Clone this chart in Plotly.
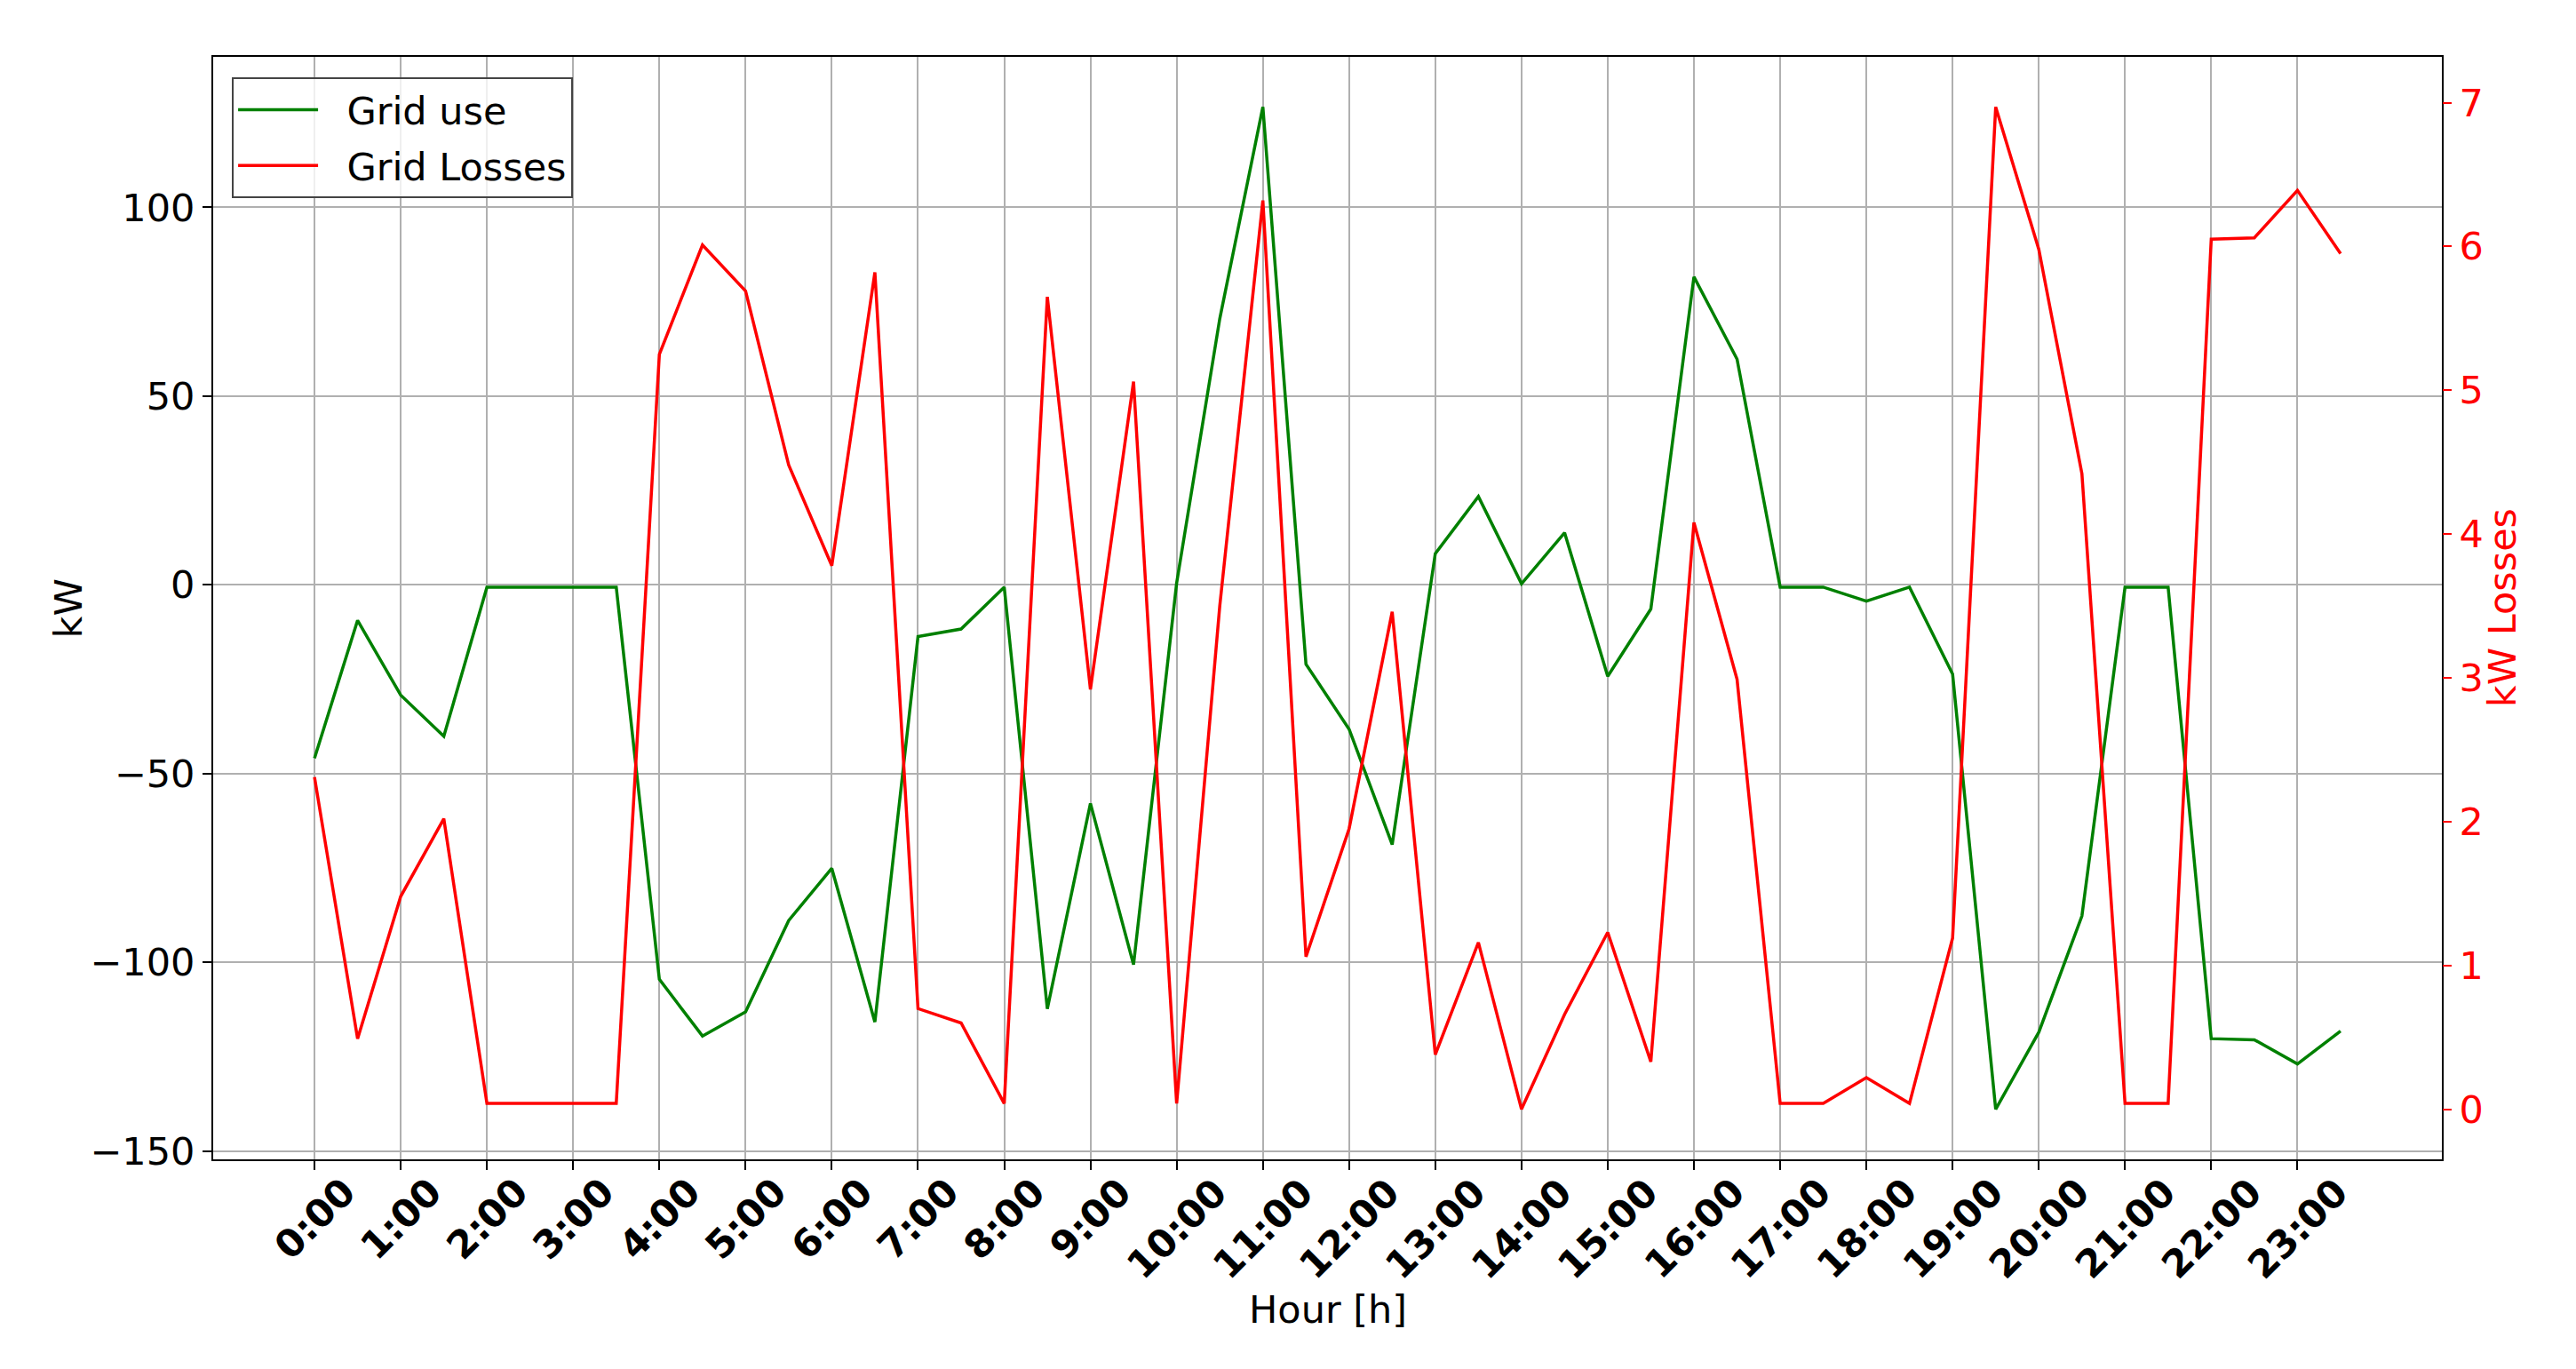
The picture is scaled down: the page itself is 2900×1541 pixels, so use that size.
"""
Grid use vs. grid losses over one day (half-hour steps), twin y axes.
"""
import plotly.graph_objects as go

# half-hour time slots
time_slots = [
    '0:00', '0:30', '1:00', '1:30', '2:00', '2:30', '3:00', '3:30',
    '4:00', '4:30', '5:00', '5:30', '6:00', '6:30', '7:00', '7:30',
    '8:00', '8:30', '9:00', '9:30', '10:00', '10:30', '11:00', '11:30',
    '12:00', '12:30', '13:00', '13:30', '14:00', '14:30', '15:00', '15:30',
    '16:00', '16:30', '17:00', '17:30', '18:00', '18:30', '19:00', '19:30',
    '20:00', '20:30', '21:00', '21:30', '22:00', '22:30', '23:00', '23:30',
]

# tick labels (full hours only)
hour_ticks = [
    '0:00', '1:00', '2:00', '3:00', '4:00', '5:00', '6:00', '7:00',
    '8:00', '9:00', '10:00', '11:00', '12:00', '13:00', '14:00', '15:00',
    '16:00', '17:00', '18:00', '19:00', '20:00', '21:00', '22:00', '23:00',
]

# Grid use [kW]
grid_use = [
    -45.9, -9.4, -29.2, -40.1, -0.6, -0.6, -0.6, -0.6,
    -104.5, -119.5, -113.1, -88.9, -75.1, -115.8, -13.7, -11.7,
    -0.6, -112.3, -57.9, -100.6, 0.5, 70.5, 126.6, -21.0,
    -38.2, -68.8, 8.3, 23.4, 0.3, 13.8, -24.2, -6.4,
    81.6, 59.8, -0.6, -0.6, -4.3, -0.6, -23.6, -138.9,
    -118.5, -87.7, -0.6, -0.6, -120.2, -120.5, -126.9, -118.2,
]

# Grid losses [kW]
grid_losses = [
    2.31, 0.49, 1.48, 2.02, 0.04, 0.04, 0.04, 0.04,
    5.25, 6.01, 5.69, 4.48, 3.78, 5.82, 0.70, 0.60,
    0.04, 5.65, 2.92, 5.06, 0.04, 3.50, 6.32, 1.06,
    1.95, 3.46, 0.38, 1.16, 0.00, 0.66, 1.23, 0.33,
    4.08, 2.99, 0.04, 0.04, 0.22, 0.04, 1.19, 6.97,
    5.98, 4.42, 0.04, 0.04, 6.05, 6.06, 6.39, 5.95,
]

FONT = 'DejaVu Sans'
FS = 43
GRID = '#b0b0b0'
GAP = '\u00a0\u00a0'  # spacing between legend line and label


def padded(values, frac=0.05):
    lo, hi = min(values), max(values)
    pad = (hi - lo) * frac
    return [lo - pad, hi + pad]


n = len(time_slots)
x_pad = (n - 1) * 0.05

fig = go.Figure()

fig.add_trace(go.Scatter(
    x=time_slots,
    y=grid_use,
    mode='lines',
    name=GAP + 'Grid use',
    legendgroup='use',
    line=dict(color='#008000', width=3.5),
))

fig.add_trace(go.Scatter(
    x=time_slots,
    y=grid_losses,
    mode='lines',
    name=GAP + 'Grid Losses',
    legendgroup='losses',
    line=dict(color='#ff0000', width=3.5),
    yaxis='y2',
))

# matplotlib-style centred, rotated hour labels
annotations = [
    dict(x=h, y=-0.007, xref='x', yref='paper', text=f'<b>{h}</b>',
         textangle=-45, xanchor='center', yanchor='top', showarrow=False,
         font=dict(family=FONT, size=FS, color='black'))
    for h in hour_ticks
]

# axis titles
annotations += [
    dict(x=0.5, y=-0.136, xref='paper', yref='paper', text='Hour [h]',
         xanchor='center', yanchor='middle', showarrow=False,
         font=dict(family=FONT, size=FS, color='black')),
    dict(x=-0.065, y=0.5, xref='paper', yref='paper', text='kW',
         textangle=-90, xanchor='center', yanchor='middle', showarrow=False,
         font=dict(family=FONT, size=FS, color='black')),
    dict(x=1.027, y=0.5, xref='paper', yref='paper', text='kW Losses',
         textangle=-90, xanchor='center', yanchor='middle', showarrow=False,
         font=dict(family=FONT, size=FS, color='#ff0000')),
]

fig.update_layout(
    width=2884,
    height=1525,
    margin=dict(l=232, r=143, t=56, b=228),
    paper_bgcolor='white',
    plot_bgcolor='white',
    font=dict(family=FONT, size=FS, color='black'),
    showlegend=True,
    annotations=annotations,
    legend=dict(
        x=0.0084, y=0.9815,
        xanchor='left', yanchor='top',
        bgcolor='rgba(255,255,255,0.8)',
        bordercolor='#444444',
        borderwidth=2,
        font=dict(family=FONT, size=FS, color='black'),
        tracegroupgap=4,
        itemwidth=90,
    ),
    xaxis=dict(
        type='category',
        categoryorder='array',
        categoryarray=time_slots,
        range=[-x_pad, n - 1 + x_pad],
        tickmode='array',
        tickvals=hour_ticks,
        showticklabels=False,
        ticks='outside', ticklen=10, tickwidth=2, tickcolor='black',
        showgrid=True, gridcolor=GRID, gridwidth=1.5,
        showline=True, linecolor='black', linewidth=2, mirror=True,
        zeroline=False,
    ),
    yaxis=dict(
        range=padded(grid_use),
        tickmode='array',
        tickvals=[-150, -100, -50, 0, 50, 100],
        ticks='outside', ticklen=10, tickwidth=2, tickcolor='black',
        showgrid=True, gridcolor=GRID, gridwidth=1.5,
        showline=True, linecolor='black', linewidth=2, mirror=True,
        zeroline=False,
        tickfont=dict(family=FONT, size=FS, color='black'),
    ),
    yaxis2=dict(
        overlaying='y',
        side='right',
        range=padded(grid_losses),
        tickmode='array',
        tickvals=[0, 1, 2, 3, 4, 5, 6, 7],
        ticks='outside', ticklen=10, tickwidth=2, tickcolor='#ff0000',
        showgrid=False,
        showline=False,
        zeroline=False,
        tickfont=dict(family=FONT, size=FS, color='#ff0000'),
    ),
)

fig.write_html('out.html')
